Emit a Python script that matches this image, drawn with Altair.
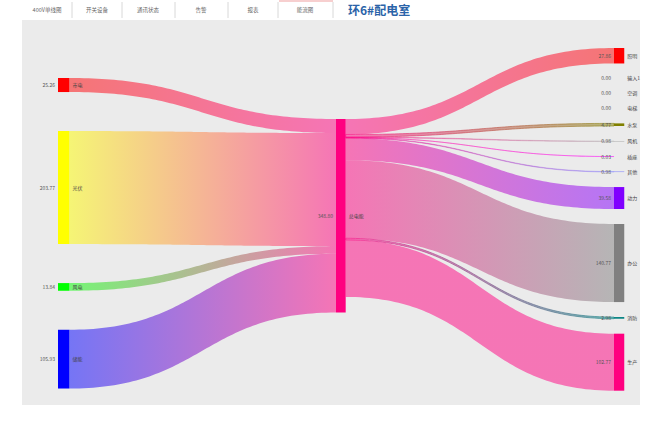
import altair as alt
import numpy as np
import pandas as pd

# ---------------- data ----------------
left_names = ["市电", "光伏", "风电", "储能"]
left_values = [25.26, 203.77, 13.84, 105.93]
left_colors = ["#ff0000", "#ffff00", "#00ff00", "#0000ff"]

center_name = "总电能"
center_color = "#ff0080"

right_names = ["照明", "输入1", "空调", "电梯", "水泵", "风机", "插座", "其他", "动力", "办公", "消防", "生产"]
right_values = [27.86, 0.00, 0.00, 0.00, 4.77, 0.98, 0.03, 0.98, 39.58, 140.77, 2.98, 102.77]
right_colors = ["#ff0000", "#b0b0b0", "#b0b0b0", "#b0b0b0", "#808000", "#b0b0b0",
                "#ff00ff", "#8080ff", "#8000ff", "#808080", "#008080", "#ff0080"]

tab_labels = ["400V单线图", "开关设备", "通讯状态", "告警", "报表", "能流图"]
title_text = "环6#配电室"

# ---------------- layout parameters ----------------
W, H = 618, 385
PX_PER_COL = 278.0
X0 = 36.0
NODE_W = 0.041
Y_DOMAIN = 694.0
left_top, left_gap = 104.6, 70.3
center_top = 178.5
right_top, right_gap = 50.5, 27.0


def stack(values, top, gap):
    y0s, y1s = [], []
    y = top
    for v in values:
        y0s.append(y)
        y1s.append(y + v)
        y = y + v + gap
    return y0s, y1s


ly0, ly1 = stack(left_values, left_top, left_gap)
ry0, ry1 = stack(right_values, right_top, right_gap)
center_total = max(sum(left_values), sum(right_values))
cy0, cy1 = center_top, center_top + center_total

nodes = []
for n, v, c, a, b in zip(left_names, left_values, left_colors, ly0, ly1):
    nodes.append(dict(name=n, val=f"{v:.2f}", color=c, x=0.0, x2=NODE_W, y=a, y2=b))
nodes.append(dict(name=center_name, val=f"{center_total:.2f}", color=center_color,
                  x=1.0, x2=1.0 + NODE_W * 0.85, y=cy0, y2=cy1))
for n, v, c, a, b in zip(right_names, right_values, right_colors, ry0, ry1):
    nodes.append(dict(name=n, val=f"{v:.2f}", color=c, x=2.0, x2=2.0 + NODE_W * 0.9, y=a, y2=b))
nodes_df = pd.DataFrame(nodes)
nodes_df["ym"] = (nodes_df["y"] + nodes_df["y2"]) / 2

# links
links = []
cur = cy0
for v, c, a in zip(left_values, left_colors, ly0):
    links.append(dict(sx=NODE_W, tx=1.0, sy=a, ty=cur, v=v, c1=c, c2=center_color))
    cur += v
cur = cy0
for v, c, a in zip(right_values, right_colors, ry0):
    if v <= 0:
        continue
    links.append(dict(sx=1.0 + NODE_W * 0.85, tx=2.0, sy=cur, ty=a, v=v, c1=center_color, c2=c))
    cur += v

t = np.linspace(0, 1, 80)
XSC = alt.Scale(domain=[-X0 / PX_PER_COL, (W - X0) / PX_PER_COL], nice=False, zero=False)
YSC = alt.Scale(domain=[0, Y_DOMAIN], reverse=True, nice=False, zero=False)
xs = alt.X("x:Q", axis=None, scale=XSC)
ys = alt.Y("y:Q", axis=None, scale=YSC)

layers = []
for i, L in enumerate(links):
    mx = (L["sx"] + L["tx"]) / 2
    bx = (1 - t) ** 3 * L["sx"] + 3 * (1 - t) ** 2 * t * mx + 3 * (1 - t) * t ** 2 * mx + t ** 3 * L["tx"]
    s = 3 * t ** 2 - 2 * t ** 3
    top = L["sy"] + (L["ty"] - L["sy"]) * s
    df = pd.DataFrame({"x": bx, "y": top, "y2": top + L["v"]})
    grad = {"gradient": "linear", "x1": 0, "y1": 0, "x2": 1, "y2": 0,
            "stops": [{"offset": 0, "color": L["c1"]}, {"offset": 1, "color": L["c2"]}]}
    kw = dict(fill=grad, fillOpacity=0.5, orient="vertical")
    if L["v"] < 6:
        kw.update(stroke=grad, strokeWidth=1, strokeOpacity=0.55 if L["v"] > 2 else 0.35)
    layers.append(
        alt.Chart(df).mark_area(**kw).encode(x=xs, y=ys, y2="y2:Q")
    )

node_chart = alt.Chart(nodes_df).mark_rect().encode(
    x=xs, x2="x2:Q", y=ys, y2="y2:Q", color=alt.Color("color:N", scale=None)
)
val_text = alt.Chart(nodes_df).mark_text(
    align="right", baseline="middle", dx=-3, fontSize=5, color="#555", font="Noto Sans CJK SC"
).encode(x=xs, y=alt.Y("ym:Q", axis=None, scale=YSC), text="val:N")
name_text = alt.Chart(nodes_df).mark_text(
    align="left", baseline="middle", dx=3, fontSize=5, color="#444", font="Noto Sans CJK SC"
).encode(x=alt.X("x2:Q", axis=None, scale=XSC), y=alt.Y("ym:Q", axis=None, scale=YSC), text="name:N")

layers += [node_chart, val_text, name_text]

# ---------------- tab bar (UI chrome) ----------------
one = pd.DataFrame({"k": [0]})
tab_centers = [25, 75, 126, 179, 231, 283]
tab_seps = [50, 100, 153, 206, 256, 311]
layers.append(alt.Chart(one).mark_rect(color="#ffffff").encode(
    x=alt.value(257), x2=alt.value(311), y=alt.value(-19), y2=alt.value(0)))
layers.append(alt.Chart(one).mark_rule(color="#f0a0a0", strokeWidth=1.2).encode(
    x=alt.value(257), x2=alt.value(311), y=alt.value(-19)))
for sx in tab_seps:
    layers.append(alt.Chart(one).mark_rule(color="#d8d8d8", strokeWidth=1).encode(
        x=alt.value(sx), y=alt.value(-18), y2=alt.value(-2)))
for lab, cx in zip(tab_labels, tab_centers):
    layers.append(alt.Chart(pd.DataFrame({"label": [lab]})).mark_text(
        fontSize=5.5, color="#666", font="Noto Sans CJK SC", baseline="middle", align="center"
    ).encode(x=alt.value(cx), y=alt.value(-10), text="label:N"))
layers.append(alt.Chart(pd.DataFrame({"label": [title_text]})).mark_text(
    fontSize=12, fontWeight="bold", color="#2b63a8", font="Noto Sans CJK SC", baseline="middle", align="left"
).encode(x=alt.value(326), y=alt.value(-9), text="label:N"))

chart = alt.layer(*layers).properties(
    width=W, height=H,
    padding={"left": 22, "top": 20, "right": 13, "bottom": 17},
    autosize=alt.AutoSizeParams(type="none"),
    background="#ffffff",
).configure_view(fill="#ebebeb", stroke=None)

chart.save("out.html", embed_options={"renderer": "svg", "actions": False})
